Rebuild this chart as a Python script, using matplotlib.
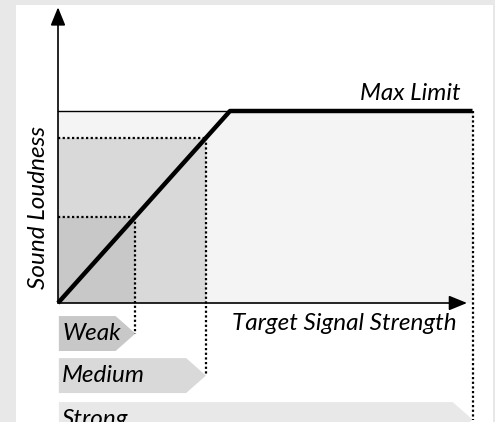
import numpy as np
import matplotlib
matplotlib.use("Agg")
import matplotlib.pyplot as plt
from matplotlib.patches import Polygon, Rectangle

# curve: loudness follows signal up to the limit, then stays flat
knee = 10.0
max_limit = 10.0
levels = ["Weak", "Medium", "Strong"]
level_signal = [4.5, 8.6, 24.1]
level_colors = ["#c8c8c8", "#d9d9d9", "#e8e8e8"]
x_label = "Target Signal Strength"
y_label = "Sound Loudness"
limit_label = "Max Limit"

W, H = 495, 422
fig = plt.figure(figsize=(W / 100, H / 100), dpi=100, facecolor="#e8e8e8")
ax = fig.add_axes([0, 0, 1, 1])
ax.set_facecolor("none")
ax.axis("off")
# white panel
ax.add_patch(Rectangle((16 / W, 0), (493 - 16) / W, (H - 5) / H,
                       transform=fig.transFigure, facecolor="white",
                       edgecolor="none", zorder=0))

# pixel-based scale: origin at (58, 303)
sx, sy = 17.2, 19.2
ax.set_xlim(-58 / sx, (W - 58) / sx)
ax.set_ylim(-(H - 303) / sy, 303 / sy)

font = dict(family=["Lato", "DejaVu Sans"], style="italic", size=17.5)

# shaded areas
strong = level_signal[2]
ax.fill_between([0, strong], 0, max_limit, color="#f4f4f4", lw=0, zorder=1)
for sig, col in zip(level_signal[:2][::-1], level_colors[:2][::-1]):
    ax.fill_between([0, sig], 0, min(sig, max_limit), color=col, lw=0, zorder=2)

# thin top edge of the saturated zone
ax.plot([0, knee], [max_limit, max_limit], color="black", lw=1, zorder=3)

# chevron labels below the axis
chev_h = 1.82
tip_len = 1.15
centers = [-1.59, -3.78, -6.07]
for name, sig, col, cy in zip(levels, level_signal, level_colors, centers):
    pts = [(0.05, cy + chev_h / 2), (sig - tip_len, cy + chev_h / 2),
           (sig, cy), (sig - tip_len, cy - chev_h / 2), (0.05, cy - chev_h / 2)]
    ax.add_patch(Polygon(pts, closed=True, facecolor=col, edgecolor="none", zorder=2))
    ax.text(0.25, cy, name, ha="left", va="center", zorder=5, **font)
    # dotted guides
    top = min(sig, max_limit)
    ax.plot([sig, sig], [top, cy], color="black", lw=1.6,
            linestyle=(0, (1, 1.1)), zorder=4)
    if sig < knee:
        ax.plot([0, sig], [top, top], color="black", lw=1.6,
                linestyle=(0, (1, 1.1)), zorder=4)

# response curve
cx = np.array([0, knee, strong])
cy_ = np.minimum(cx, max_limit)
ax.plot(cx, cy_, color="black", lw=3.2, solid_capstyle="butt", zorder=6)

# axes arrows
arrow = dict(arrowstyle="-|>,head_length=1.1,head_width=0.45", color="black",
             lw=1.2, shrinkA=0, shrinkB=0)
ax.annotate("", xy=(0, 15.4), xytext=(0, 0), arrowprops=arrow, zorder=7)
ax.annotate("", xy=(23.78, 0), xytext=(0, 0), arrowprops=arrow, zorder=7)

ax.text(23.2, -1.41, x_label, ha="right", va="baseline", **font)
ax.text(-1.16, 5.0, y_label, ha="center", va="center", rotation=90, **font)
ax.text(23.43, 10.57, limit_label, ha="right", va="baseline", **font)

fig.savefig("out.png", dpi=100, facecolor=fig.get_facecolor())
